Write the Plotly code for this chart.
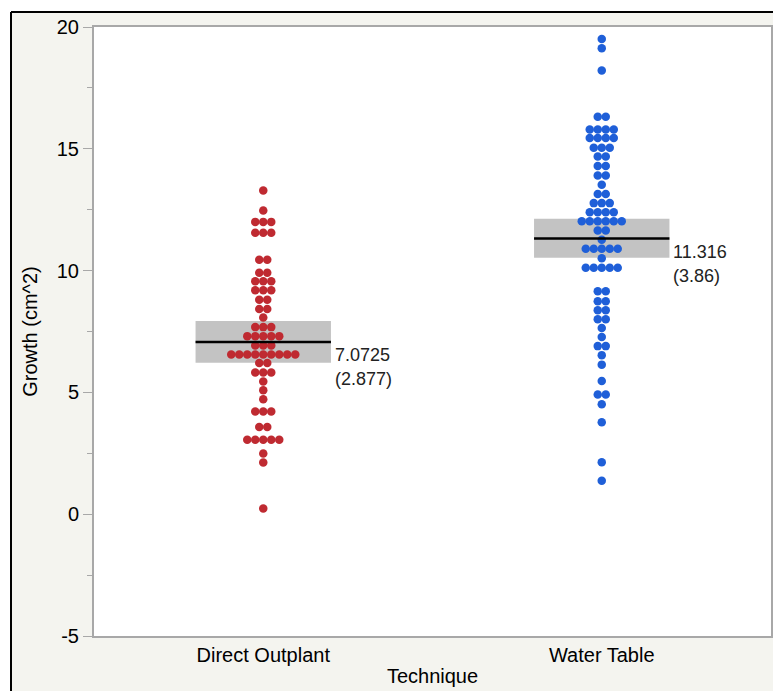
import plotly.graph_objects as go
from collections import Counter

# ---------------- data ----------------
categories = ["Direct Outplant", "Water Table"]

direct_outplant = (
    [13.29, 12.47] + [12.0] * 3 + [11.55] * 3 + [10.45] * 2 + [9.91] * 2 +
    [9.56] * 3 + [9.19] * 3 + [8.8] * 2 + [8.42] * 2 + [8.07] + [7.68] * 3 +
    [7.31] * 5 + [6.93] * 3 + [6.56] * 9 + [6.21] * 2 + [5.82] * 3 +
    [5.45, 5.09, 4.72] + [4.22] * 3 + [3.58] * 2 + [3.06] * 5 +
    [2.49, 2.12, 0.23]
)

water_table = (
    [19.51, 19.13, 18.21] + [16.32] * 2 + [15.79] * 4 + [15.44] * 4 +
    [15.04] * 3 + [14.68] * 2 + [14.29] * 2 + [13.9] * 2 + [13.52] +
    [13.14] * 2 + [12.77] * 3 + [12.4] * 4 + [12.03] * 6 + [11.65] * 2 +
    [11.27] + [10.9] * 5 + [10.51] + [10.12] * 5 + [9.15] * 2 + [8.74] * 2 +
    [8.37] * 2 + [8.0] * 2 + [7.64, 7.27] + [6.9] * 2 + [6.53, 6.14, 5.47] +
    [4.91] * 2 + [4.51, 3.77, 2.13, 1.37]
)

means = [7.0725, 11.316]
std_devs = [2.877, 3.86]
ci_low = [6.22, 10.53]
ci_high = [7.93, 12.13]

y_tick_vals = [-5, 0, 5, 10, 15, 20]
y_tick_text = ["-5", "0", "5", "10", "15", "20"]

# ---------------- layout constants ----------------
W, H = 773, 691
L, R, T, B = 94, 2, 27, 55
plot_w = W - L - R
plot_h = H - T - B
x_range = [-0.5, 1.5]
units_per_px = (x_range[1] - x_range[0]) / plot_w
dot_spacing = 8.0 * units_per_px
box_half = 0.2

colors = ["#bf2a31", "#1f5fd8"]


def px_to_paper_x(px):
    return (px - L) / plot_w


def px_to_paper_y(py):
    return 1 - (py - T) / plot_h


def swarm(values, center):
    counts = Counter(values)
    xs, ys = [], []
    for v in sorted(counts, reverse=True):
        n = counts[v]
        for i in range(n):
            xs.append(center + (i - (n - 1) / 2) * dot_spacing)
            ys.append(v)
    return xs, ys


fig = go.Figure()
shapes = []
annotations = []

groups = [direct_outplant, water_table]
for gi, vals in enumerate(groups):
    c = gi
    shapes.append(dict(type="rect", xref="x", yref="y",
                       x0=c - box_half, x1=c + box_half,
                       y0=ci_low[gi], y1=ci_high[gi],
                       fillcolor="#c3c3c3", line=dict(width=0), layer="below"))
    xs, ys = swarm(vals, c)
    fig.add_trace(go.Scatter(x=xs, y=ys, mode="markers",
                             marker=dict(size=8.5, color=colors[gi], line=dict(width=0)),
                             hoverinfo="y", showlegend=False))
    shapes.append(dict(type="line", xref="x", yref="y",
                       x0=c - box_half, x1=c + box_half,
                       y0=means[gi], y1=means[gi],
                       line=dict(color="black", width=2.5), layer="above"))
    annotations.append(dict(x=c + box_half + 0.005, y=means[gi], xref="x", yref="y",
                            text=f"{means[gi]:g}", showarrow=False,
                            xanchor="left", yanchor="middle", yshift=-13,
                            font=dict(size=18, color="#222222")))
    annotations.append(dict(x=c + box_half + 0.005, y=means[gi], xref="x", yref="y",
                            text=f"({std_devs[gi]:g})", showarrow=False,
                            xanchor="left", yanchor="middle", yshift=-37,
                            font=dict(size=18, color="#222222")))

# frame: white outer strips + black border lines
shapes.append(dict(type="rect", xref="paper", yref="paper",
                   x0=px_to_paper_x(-5), x1=px_to_paper_x(11),
                   y0=px_to_paper_y(H + 5), y1=px_to_paper_y(-5),
                   fillcolor="white", line=dict(width=0), layer="above"))
shapes.append(dict(type="rect", xref="paper", yref="paper",
                   x0=px_to_paper_x(-5), x1=px_to_paper_x(W + 5),
                   y0=px_to_paper_y(12), y1=px_to_paper_y(-5),
                   fillcolor="white", line=dict(width=0), layer="above"))
shapes.append(dict(type="line", xref="paper", yref="paper",
                   x0=px_to_paper_x(11), x1=px_to_paper_x(W + 5),
                   y0=px_to_paper_y(12), y1=px_to_paper_y(12),
                   line=dict(color="black", width=2), layer="above"))
shapes.append(dict(type="line", xref="paper", yref="paper",
                   x0=px_to_paper_x(11), x1=px_to_paper_x(11),
                   y0=px_to_paper_y(12), y1=px_to_paper_y(H + 5),
                   line=dict(color="black", width=2), layer="above"))

font_family = "Liberation Sans, Arial, sans-serif"

fig.update_layout(
    width=W, height=H,
    margin=dict(l=L, r=R, t=T, b=B, pad=0, autoexpand=False),
    paper_bgcolor="#f4f4ef",
    plot_bgcolor="white",
    font=dict(family=font_family, size=20, color="black"),
    shapes=shapes,
    annotations=annotations,
    xaxis=dict(range=x_range, tickvals=[0, 1], ticktext=categories,
               showgrid=False, zeroline=False, showline=True, mirror=True,
               linecolor="#a8a8a8", linewidth=2, ticks="",
               title=dict(text="Technique", standoff=4, font=dict(size=20)),
               tickfont=dict(size=20), fixedrange=True, automargin=False),
    yaxis=dict(range=[-5, 20], tickvals=y_tick_vals, ticktext=y_tick_text,
               showgrid=False, zeroline=False, showline=True, mirror=True,
               linecolor="#a8a8a8", linewidth=2, ticks="outside", ticklen=9,
               tickcolor="#a8a8a8", tickwidth=1,
               minor=dict(ticks="outside", ticklen=5, dtick=2.5, tickcolor="#a8a8a8"),
               title=dict(text="Growth (cm^2)", standoff=14, font=dict(size=20)),
               tickfont=dict(size=20), fixedrange=True, automargin=False),
)

fig.write_html(
    "out.html",
    config={"displayModeBar": False},
    post_script="document.body.style.margin='0';document.body.style.padding='0';"
                "document.documentElement.style.overflow='hidden';",
)
